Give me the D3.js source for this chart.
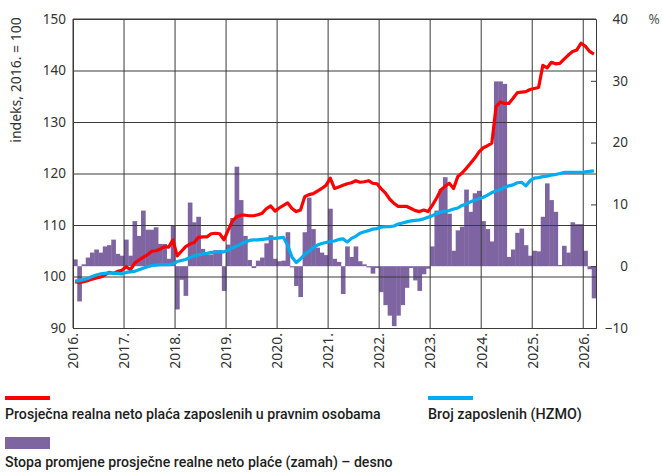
<!DOCTYPE html>
<html><head><meta charset="utf-8">
<script src="https://cdn.jsdelivr.net/npm/d3@7"></script>
<style>
html,body{margin:0;padding:0;background:#fff;}
svg{display:block;}
</style></head>
<body>
<script>
// ---- DATA ----
const startYear = 2016, nMonths = 123; // Jan 2016 – Mar 2026
const months = d3.range(nMonths).map(i => `${startYear + Math.floor(i/12)}-${String(i%12+1).padStart(2,"0")}`);
const yearLabels = ["2016.","2017.","2018.","2019.","2020.","2021.","2022.","2023.","2024.","2025.","2026."];
const leftTicks = [90,100,110,120,130,140,150];
const rightTicks = [-10,0,10,20,30,40];

// Prosječna realna neto plaća (indeks, 2016.=100) – lijevo
const wageIndex = [
 99.0,98.8,99.0,99.2,99.5,99.7,99.9,100.3,100.8,100.6,101.0,101.2,
 101.9,101.3,102.6,103.2,103.7,104.2,104.9,105.0,105.3,105.8,105.7,107.1,
 104.0,104.9,105.8,106.3,106.6,107.6,107.7,107.7,108.3,108.4,108.3,107.1,
 109.0,110.8,111.6,111.9,111.9,111.8,111.8,112.0,112.3,113.2,113.7,112.7,
 113.3,113.8,114.3,113.2,112.6,112.9,115.5,115.9,116.1,116.6,117.1,117.7,
 119.1,117.1,117.4,117.7,118.0,118.2,118.6,118.3,118.4,118.6,118.1,118.0,
 117.0,116.2,115.0,114.2,113.6,113.6,113.6,113.2,112.8,112.6,112.9,112.6,
 113.8,115.2,116.8,117.5,118.1,117.1,119.4,120.1,121.0,122.0,123.0,124.2,
 125.0,125.4,125.9,133.0,133.9,133.6,133.6,134.6,135.7,135.8,135.9,136.3,
 136.5,136.7,141.0,140.5,141.6,141.3,141.4,142.2,143.0,143.7,144.0,145.3,
 144.7,143.7,143.2
];
// Broj zaposlenih (HZMO) – lijevo
const employment = [
 99.1,99.2,99.4,99.6,100.0,100.3,100.5,100.6,100.7,100.6,100.6,100.5,
 100.8,100.9,101.0,101.3,101.6,101.9,102.1,102.2,102.3,102.3,102.3,102.4,
 102.9,103.1,103.3,103.7,104.0,104.2,104.4,104.5,104.7,104.7,104.8,104.8,
 105.1,105.6,105.9,106.3,106.7,107.0,107.1,107.1,107.2,107.3,107.4,107.4,
 107.5,107.6,106.0,103.8,102.7,103.4,104.3,104.9,105.6,106.1,106.4,106.6,
 106.8,106.9,107.2,107.3,106.7,107.4,107.8,108.4,108.7,108.9,109.2,109.3,
 109.6,109.7,109.7,109.8,110.2,110.4,110.6,110.8,110.9,111.0,111.2,111.5,
 111.8,112.2,112.5,112.7,112.8,113.1,113.3,113.8,114.1,114.5,114.8,115.1,
 115.4,115.8,116.3,116.6,116.9,117.3,117.6,117.8,118.2,118.3,117.6,118.6,
 119.1,119.2,119.4,119.5,119.7,119.8,120.0,120.2,120.2,120.2,120.2,120.2,
 120.3,120.4,120.5
];
// Stopa promjene prosječne realne neto plaće (zamah), % – desno
const wageMomentum = [
 1.1,-5.7,0.3,1.4,2.2,2.7,2.2,3.2,3.4,4.3,2.0,1.7,
 4.3,1.7,7.3,4.9,9.0,5.9,5.9,6.3,3.6,3.6,1.2,6.6,
 -7.0,-2.2,-4.8,10.3,7.1,8.0,2.8,1.9,1.9,2.6,2.6,-4.0,
 3.5,7.8,16.1,10.7,4.9,1.0,-0.3,0.9,1.4,3.7,5.0,1.2,
 0.8,0.9,5.5,-0.2,-3.2,-5.0,5.5,11.1,6.0,3.0,2.2,1.8,
 9.3,1.2,0.7,-4.5,3.2,1.5,3.2,0.8,0.3,-0.2,-1.2,-0.3,
 -4.2,-6.3,-8.0,-9.7,-8.0,-6.3,-3.5,-0.3,-2.3,-4.0,-1.3,-0.4,
 3.2,9.0,12.5,14.4,8.5,2.5,5.8,6.4,12.4,8.8,11.8,12.2,
 7.3,6.0,4.0,29.9,29.9,29.5,1.5,2.7,5.4,6.1,3.4,1.7,
 2.5,2.4,8.0,13.4,10.7,8.8,0.2,3.3,2.2,7.1,6.8,6.8,
 2.5,-0.5,-5.2
];

// ---- CHART ----
const W = 662, H = 474;
const L = 73, R = 596, T = 19, B = 328;
const COL_RED = "#ff0000", COL_BLUE = "#00aeef", COL_PURPLE = "#7f64a2", GRID = "#3a3a3a";
const FONT = "'Noto Sans', 'DejaVu Sans', sans-serif";

const svg = d3.select("body").append("svg").attr("width", W).attr("height", H);

const x = d3.scaleBand().domain(months).range([L, R]).padding(0);
const yL = d3.scaleLinear().domain([90,150]).range([B, T]);
const yR = d3.scaleLinear().domain([-10,40]).range([B, T]);
const cx = (i) => x(months[i]) + x.bandwidth()/2;

// bars
svg.append("g").selectAll("rect").data(wageMomentum).join("rect")
  .attr("x", (d,i) => x(months[i]))
  .attr("width", x.bandwidth() + 0.4)
  .attr("y", d => Math.min(yR(d), yR(0)))
  .attr("height", d => Math.abs(yR(d) - yR(0)))
  .attr("fill", COL_PURPLE);

// grid: horizontal (left axis ticks)
const gy = svg.append("g").call(d3.axisLeft(yL).tickValues(leftTicks).tickSize(-(R-L)).tickFormat(d => d).tickPadding(7));
gy.attr("transform", `translate(${L},0)`);
gy.select(".domain").attr("stroke", GRID);
gy.selectAll(".tick line").attr("stroke", GRID).attr("stroke-width", 1);
gy.selectAll(".tick text").attr("font-family", FONT).attr("font-size", 13.5).attr("fill", "#333");

// grid: vertical (years)
const yearIdx = yearLabels.map((_, k) => months[k*12]);
const gx = svg.append("g").attr("transform", `translate(0,${B})`)
  .call(d3.axisBottom(x).tickValues(yearIdx).tickSize(-(B-T)).tickFormat((d,k) => yearLabels[k]).tickSizeOuter(0));
gx.selectAll(".tick").attr("transform", d => `translate(${x(d)},0)`);
gx.select(".domain").attr("stroke", GRID);
gx.selectAll(".tick line").attr("stroke", GRID).attr("stroke-width", 1);
gx.selectAll(".tick text")
  .attr("font-family", FONT).attr("font-size", 14).attr("fill", "#333")
  .attr("text-anchor", "end")
  .attr("transform", "rotate(-90)")
  .attr("x", -5).attr("y", 0).attr("dy", "0.38em");

// right axis
const gr = svg.append("g").attr("transform", `translate(${R},0)`)
  .call(d3.axisRight(yR).tickValues(rightTicks).tickSize(-5).tickPadding(14).tickFormat(d => d < 0 ? "\u2212" + Math.abs(d) : d));
gr.select(".domain").attr("stroke", GRID);
gr.selectAll(".tick line").attr("stroke", GRID);
gr.selectAll(".tick text").attr("font-family", FONT).attr("font-size", 13.5).attr("fill", "#333")
  .attr("text-anchor", "end").attr("x", 32);
svg.append("text").attr("x", 654).attr("y", 24).attr("text-anchor", "middle")
  .attr("font-family", FONT).attr("font-size", 13.5).attr("fill", "#555").text("%");

// left title
svg.append("text").attr("transform", `translate(21,80) rotate(-90)`).attr("text-anchor", "middle")
  .attr("font-family", FONT).attr("font-size", 14).attr("fill", "#333").text("indeks, 2016. = 100");

// lines
const lineL = d3.line().x((d,i) => cx(i)).y(d => yL(d));
svg.append("path").datum(wageIndex).attr("d", lineL).attr("fill", "none")
  .attr("stroke", COL_RED).attr("stroke-width", 3.2).attr("stroke-linejoin", "round");
svg.append("path").datum(employment).attr("d", lineL).attr("fill", "none")
  .attr("stroke", COL_BLUE).attr("stroke-width", 3.2).attr("stroke-linejoin", "round");

// frame top
svg.append("line").attr("x1", L).attr("x2", R).attr("y1", T).attr("y2", T).attr("stroke", GRID);

// legend
const LF = "'Roboto', 'Noto Sans', sans-serif";
const lg = svg.append("g");
function legendText(xp, yp, str, targetW) {
  const g = lg.append("g").attr("transform", `translate(${xp},${yp})`);
  const t = g.append("text").attr("x", 0).attr("y", 0)
    .attr("font-family", LF).attr("font-weight", 500).attr("font-size", 15).attr("fill", "#1e1e1e")
    .text(str);
  const w = t.node().getComputedTextLength();
  g.attr("transform", `translate(${xp},${yp}) scale(${targetW / w},1)`);
}
lg.append("line").attr("x1", 5).attr("x2", 50).attr("y1", 398).attr("y2", 398).attr("stroke", COL_RED).attr("stroke-width", 4);
legendText(5, 419, "Prosječna realna neto plaća zaposlenih u pravnim osobama", 376);
lg.append("line").attr("x1", 428).attr("x2", 473).attr("y1", 398).attr("y2", 398).attr("stroke", COL_BLUE).attr("stroke-width", 4);
legendText(428, 419, "Broj zaposlenih (HZMO)", 154);
lg.append("rect").attr("x", 5).attr("y", 437).attr("width", 45).attr("height", 12).attr("fill", COL_PURPLE);
legendText(5, 467, "Stopa promjene prosječne realne neto plaće (zamah) – desno", 388);
</script>
</body></html>
